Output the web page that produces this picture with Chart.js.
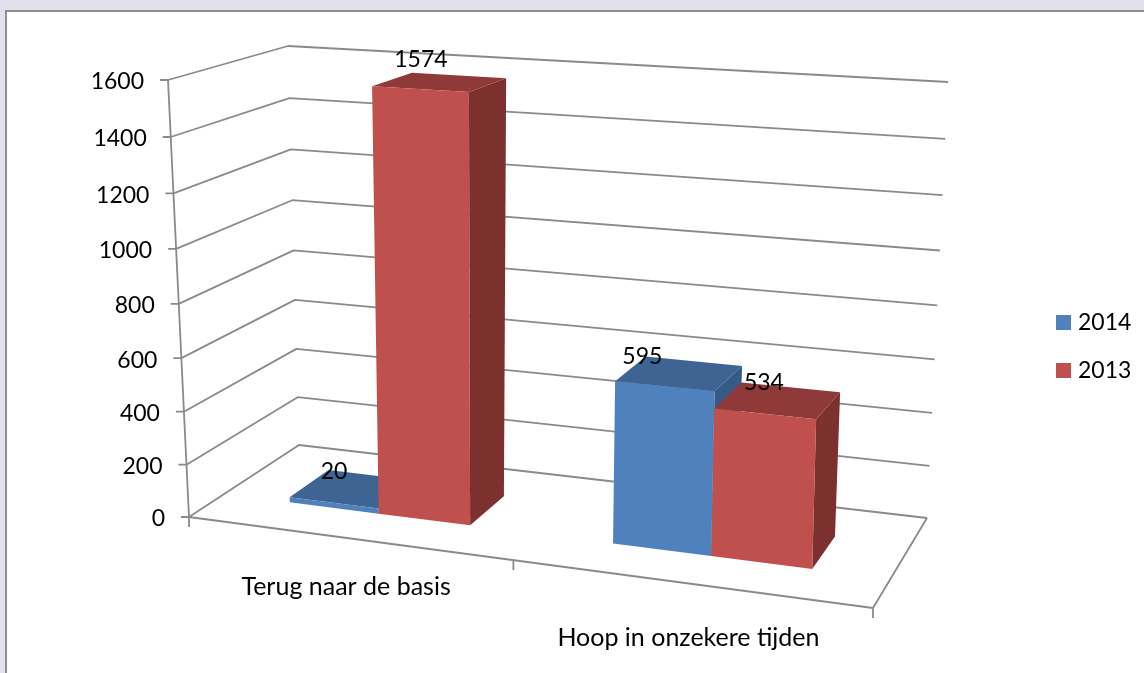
<!DOCTYPE html>
<html lang="nl">
<head>
  <meta charset="UTF-8">
  <title>Terug naar de basis / Hoop in onzekere tijden</title>
  <script src="https://cdn.jsdelivr.net/npm/chart.js"></script>
  <style>
    html, body {
      margin: 0;
      width: 1144px;
      height: 673px;
      overflow: hidden;
      background: #e3dfec;
    }

    #kader {
      position: absolute;
      left: 5px;
      top: 10px;
      width: 1150px;
      height: 680px;
      background: #fff;
      border: 2px solid #8e8e8e;
    }

    #grafiek {
      position: absolute;
      left: 0;
      top: 0;
    }
  </style>
</head>
<body>
  <div id="kader"></div>
  <canvas id="grafiek" width="1144" height="673"></canvas>

  <script>
    const categorieen = ['Terug naar de basis', 'Hoop in onzekere tijden'];
    const reeksNamen = ['2014', '2013'];
    const waarden2014 = [20, 595];
    const waarden2013 = [1574, 534];
    const asMax = 1600;
    const asStap = 200;

    const kleuren = {
      2014: { voor: '#4f81bd', boven: '#3d6492', zij: '#345a85' },
      2013: { voor: '#c0504d', boven: '#8f3a38', zij: '#7d312f' }
    };
    const lijnKleur = '#8a8a8a';
    const lettertype = 'Lato, sans-serif';
    const cijferFont = '23px ' + lettertype;
    const tekstFont = '25px ' + lettertype;

    // hoeken van de "doos": vloer en bovenvlak, op het scherm
    const vloer = [[189, 517], [873, 608], [927, 518], [299, 445]];
    const plafond = [[168, 80], [883, 123], [948, 82], [288, 46]];
    const diepteVoor = 0.3;
    const diepteAchter = 0.67;
    const perspectief = 1.05;

    // verschuiving van de waardelabels t.o.v. het midden van het bovenvlak
    const labelVerschuiving = [
      [[-19, -17], [-37, -17]],
      [[-19, -23], [-14, -18]]
    ];
    const categorieVerschuiving = [[-1, 49], [0, 54]];

    function maakVlak(q) {
      const [x0, y0] = q[0], [x1, y1] = q[1], [x2, y2] = q[2], [x3, y3] = q[3];
      const dx1 = x1 - x2, dx2 = x3 - x2, sx = x0 - x1 + x2 - x3;
      const dy1 = y1 - y2, dy2 = y3 - y2, sy = y0 - y1 + y2 - y3;
      const det = dx1 * dy2 - dx2 * dy1;
      const g = (sx * dy2 - dx2 * sy) / det;
      const h = (dx1 * sy - sx * dy1) / det;
      const a = x1 - x0 + g * x1, b = x3 - x0 + h * x3;
      const d = y1 - y0 + g * y1, e = y3 - y0 + h * y3;
      return function (u, w) {
        const n = g * u + h * w + 1;
        return [(a * u + b * w + x0) / n, (d * u + e * w + y0) / n];
      };
    }

    const vloerVlak = maakVlak(vloer);
    const plafondVlak = maakVlak(plafond);

    function punt(u, v, w) {
      const t = v / (v + perspectief * (1 - v));
      const uu = u + 0.024 * u * (1 - u);
      const p = vloerVlak(uu, w);
      const q = plafondVlak(uu, w);
      return [p[0] + (q[0] - p[0]) * t, p[1] + (q[1] - p[1]) * t];
    }

    function vlak(ctx, punten, kleur) {
      ctx.beginPath();
      punten.forEach((p, i) => i ? ctx.lineTo(p[0], p[1]) : ctx.moveTo(p[0], p[1]));
      ctx.closePath();
      ctx.fillStyle = kleur;
      ctx.fill();
    }

    function lijn(ctx, punten) {
      ctx.beginPath();
      punten.forEach((p, i) => i ? ctx.lineTo(p[0], p[1]) : ctx.moveTo(p[0], p[1]));
      ctx.stroke();
    }

    const plugin3d = {
      id: 'plugin3d',
      beforeDatasetsDraw(chart) {
        const ctx = chart.ctx;
        const gebied = chart.chartArea;
        const yAs = chart.scales.y;
        const xAs = chart.scales.x;
        const hoogte = val => (yAs.getPixelForValue(0) - yAs.getPixelForValue(val)) / gebied.height;
        const breedte = px => (px - gebied.left) / gebied.width;

        ctx.save();
        ctx.strokeStyle = lijnKleur;
        ctx.lineWidth = 1.8;
        ctx.lineJoin = 'round';

        // rasterlijnen over zijwand en achterwand, met as-streepjes en labels
        ctx.font = cijferFont;
        ctx.fillStyle = '#000';
        ctx.textBaseline = 'middle';
        ctx.textAlign = 'right';
        yAs.ticks.forEach(t => {
          const v = hoogte(t.value);
          const p = punt(0, v, 0);
          lijn(ctx, [[p[0] - 8, p[1]], p, punt(0, v, 1), punt(1, v, 1)]);
          ctx.fillText(String(t.value), p[0] - 24, p[1] + 2);
        });
        lijn(ctx, [punt(0, 1, 0), punt(0, 0, 0)]);
        lijn(ctx, [punt(0, 0, 0), punt(1, 0, 0), punt(1, 0, 1)]);

        // streepjes en categorielabels onder de voorrand
        [0, 0.5, 1].forEach(u => {
          const p = punt(u, 0, 0);
          lijn(ctx, [p, [p[0], p[1] + 10]]);
        });
        ctx.font = tekstFont;
        ctx.textAlign = 'center';
        categorieen.forEach((naam, i) => {
          const u = breedte(xAs.getPixelForValue(i));
          const p = punt(u, 0, 0);
          const d = categorieVerschuiving[i];
          ctx.fillText(naam, p[0] + d[0], p[1] + d[1]);
        });

        // balken: eerst blauw, dan rood eroverheen
        const labels = [];
        chart.data.datasets.forEach((set, s) => {
          const kleur = kleuren[set.label];
          chart.getDatasetMeta(s).data.forEach((bar, i) => {
            const u0 = breedte(bar.x - bar.width / 2);
            const u1 = breedte(bar.x + bar.width / 2);
            const v = hoogte(set.data[i]);
            const a = diepteVoor, b = diepteAchter;
            vlak(ctx, [punt(u1, 0, a), punt(u1, 0, b), punt(u1, v, b), punt(u1, v, a)], kleur.zij);
            vlak(ctx, [punt(u0, v, a), punt(u1, v, a), punt(u1, v, b), punt(u0, v, b)], kleur.boven);
            vlak(ctx, [punt(u0, 0, a), punt(u1, 0, a), punt(u1, v, a), punt(u0, v, a)], kleur.voor);
            const m = punt((u0 + u1) / 2, v, (a + b) / 2);
            const d = labelVerschuiving[s][i];
            labels.push([String(set.data[i]), m[0] + d[0], m[1] + d[1]]);
          });
        });

        ctx.font = cijferFont;
        ctx.fillStyle = '#000';
        labels.forEach(l => ctx.fillText(l[0], l[1], l[2]));

        // legenda rechts
        ctx.textAlign = 'left';
        chart.data.datasets.forEach((set, s) => {
          const y = 315 + s * 48;
          ctx.fillStyle = set.backgroundColor;
          ctx.fillRect(1056, y, 15, 15);
          ctx.fillStyle = '#000';
          ctx.fillText(set.label, 1078, y + 8);
        });

        ctx.restore();
        return false;
      }
    };

    new Chart(document.getElementById('grafiek').getContext('2d'), {
      type: 'bar',
      data: {
        labels: categorieen,
        datasets: [
          { label: reeksNamen[0], data: waarden2014, backgroundColor: kleuren[2014].voor },
          { label: reeksNamen[1], data: waarden2013, backgroundColor: kleuren[2013].voor }
        ]
      },
      options: {
        responsive: false,
        animation: false,
        categoryPercentage: 0.57,
        barPercentage: 1,
        layout: { padding: 20 },
        scales: {
          x: { display: false },
          y: { display: false, min: 0, max: asMax, ticks: { stepSize: asStap } }
        },
        plugins: {
          title: { display: false },
          tooltip: { enabled: false },
          legend: { display: false }
        }
      },
      plugins: [plugin3d]
    });
  </script>
</body>
</html>
